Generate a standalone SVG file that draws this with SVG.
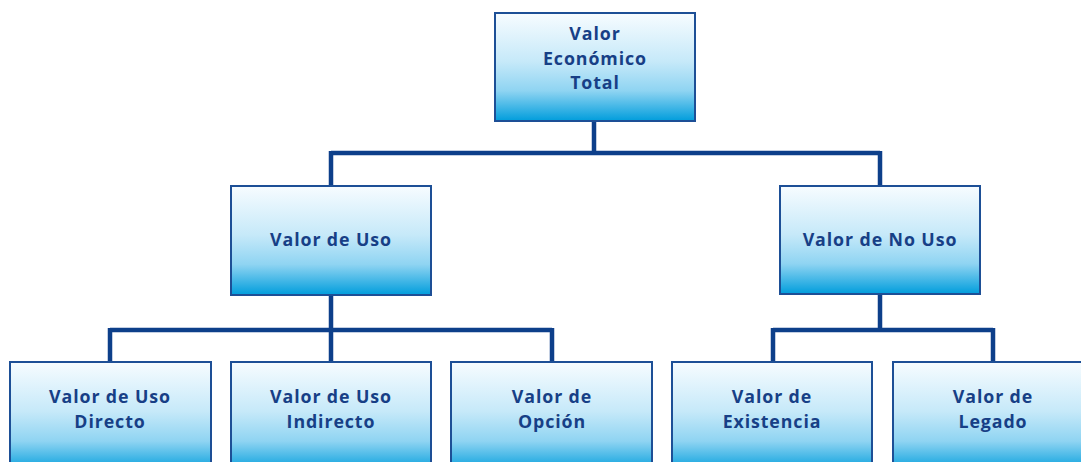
<svg xmlns="http://www.w3.org/2000/svg" width="1081" height="462" viewBox="0 0 1081 462">
<defs>
<linearGradient id="g" x1="0" y1="0" x2="0" y2="1">
<stop offset="0" stop-color="#f7fcff"/>
<stop offset="0.45" stop-color="#c6e9f9"/>
<stop offset="0.72" stop-color="#8fd4f2"/>
<stop offset="1" stop-color="#009ddc"/>
</linearGradient>
<style>
.box{fill:url(#g);stroke:#1d4f96;stroke-width:2}
.t{font-family:"Open Sans","Noto Sans",sans-serif;font-weight:bold;font-size:17.8px;letter-spacing:0.9px;fill:#173f86;text-anchor:middle}
.c{fill:none;stroke:#0d3f8a;stroke-width:4.5}
</style>
</defs>
<rect width="1081" height="462" fill="#fff"/>
<g id="connectors">
<path class="c" d="M594 121V153M331 153H880M331 151V186M880 151V186"/>
<path class="c" d="M331 295V362M110 330H552M110 328V362M552 328V362"/>
<path class="c" d="M880 294V330M773 330H993M773 328V362M993 328V362"/>
</g>
<g id="n-total"><rect class="box" x="495" y="13" width="200" height="108"/>
<text class="t" x="595" y="40">Valor</text><text class="t" x="595" y="64.5">Económico</text><text class="t" x="595" y="89">Total</text></g>
<g id="n-uso"><rect class="box" x="231" y="186" width="200" height="109"/>
<text class="t" x="331" y="246">Valor de Uso</text></g>
<g id="n-nouso"><rect class="box" x="780" y="186" width="200" height="108"/>
<text class="t" x="880" y="246">Valor de No Uso</text></g>
<g id="n-directo"><rect class="box" x="10" y="362" width="201" height="110"/>
<text class="t" x="110" y="403">Valor de Uso</text><text class="t" x="110" y="427.5">Directo</text></g>
<g id="n-indirecto"><rect class="box" x="231" y="362" width="200" height="110"/>
<text class="t" x="331" y="403">Valor de Uso</text><text class="t" x="331" y="427.5">Indirecto</text></g>
<g id="n-opcion"><rect class="box" x="451" y="362" width="201" height="110"/>
<text class="t" x="552" y="403">Valor de</text><text class="t" x="552" y="427.5">Opción</text></g>
<g id="n-existencia"><rect class="box" x="672" y="362" width="200" height="110"/>
<text class="t" x="772" y="403">Valor de</text><text class="t" x="772" y="427.5">Existencia</text></g>
<g id="n-legado"><rect class="box" x="893" y="362" width="200" height="110"/>
<text class="t" x="993" y="403">Valor de</text><text class="t" x="993" y="427.5">Legado</text></g>
</svg>
